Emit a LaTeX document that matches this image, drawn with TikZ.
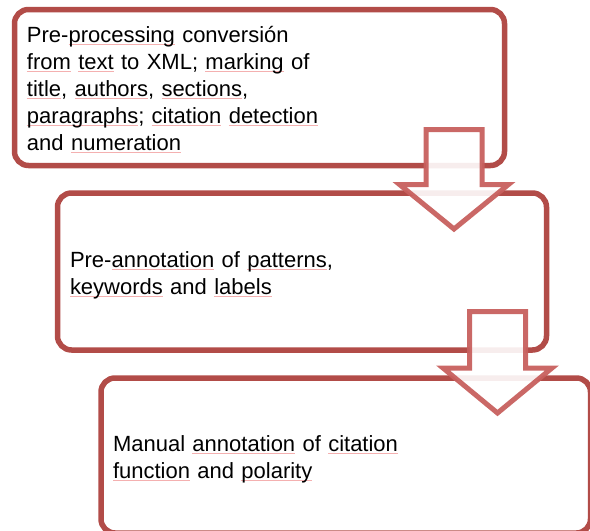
\documentclass[tikz,border=0pt]{standalone}
\usepackage{fontspec}
\setmainfont{Liberation Sans}
\definecolor{boxred}{RGB}{178,76,72}
\definecolor{arrowred}{RGB}{200,96,94}
\definecolor{sqpink}{RGB}{244,176,176}
\newcommand\sq[1]{\leavevmode\setbox0\hbox{#1}\rlap{\color{sqpink}\rule[-2.2pt]{\wd0}{0.7pt}}\box0\relax}
\tikzset{
  stagebox/.style={draw=boxred, line width=5.5pt, rounded corners=14pt, fill=white,
    align=left, inner ysep=0pt, font=\fontsize{22}{27}\selectfont},
  blockarrow/.style={draw=arrowred, draw opacity=0.95, fill=white, fill opacity=0.9,
    line width=5pt, line join=miter}
}
\begin{document}
\begin{tikzpicture}[x=1pt,y=-1pt]
\useasboundingbox (0,0) rectangle (590,531);
\clip (0,0) rectangle (590,531);
\node[stagebox, minimum width=490pt, minimum height=156pt, text width=465pt, inner xsep=12.5pt]
  (b1) at (259.5,87.5) {\rule{0pt}{20.5pt}Pre-\sq{processing} conversión\\
  \sq{from} \sq{text} to XML; \sq{marking} of\\
  \sq{title}, \sq{authors}, \sq{sections},\\
  \sq{paragraphs}; \sq{citation} \sq{detection}\\
  and \sq{numeration}};
\node[stagebox, minimum width=489pt, minimum height=157pt, text width=464pt, inner xsep=12.5pt]
  (b2) at (302,271.5) {\rule{0pt}{23pt}Pre-\sq{annotation} of \sq{patterns},\\
  \sq{keywords} and \sq{labels}};
\node[stagebox, minimum width=489.5pt, minimum height=155pt, text width=465.5pt, inner xsep=12pt]
  (b3) at (345.75,455.5) {\rule{0pt}{23.5pt}Manual \sq{annotation} of \sq{citation}\\
  \sq{function} and \sq{polarity}};
\draw[blockarrow] (426,129.5) -- (482,129.5) -- (482,184.5) -- (508.5,184.5)
  -- (454,229) -- (399.5,184.5) -- (426,184.5) -- cycle;
\draw[blockarrow] (469.5,311.5) -- (525.5,311.5) -- (525.5,368) -- (552,368)
  -- (497.5,413) -- (443,368) -- (469.5,368) -- cycle;
\end{tikzpicture}
\end{document}
